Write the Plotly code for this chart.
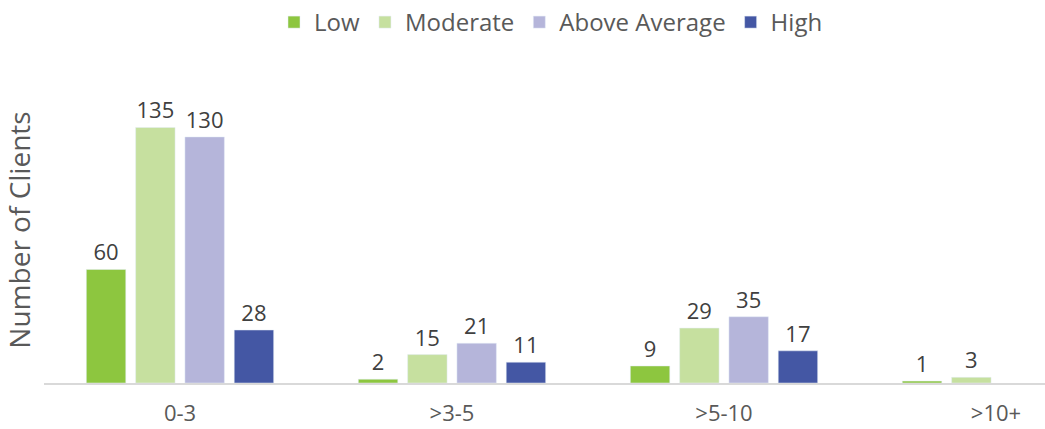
import plotly.graph_objects as go

categories = ["0-3", ">3-5", ">5-10", ">10+"]
series_names = ["Low", "Moderate", "Above Average", "High"]
low = [60, 2, 9, 1]
moderate = [135, 15, 29, 3]
above_average = [130, 21, 35, None]
high = [28, 11, 17, None]
colors = ["#8DC63F", "#C6E09F", "#B5B5DA", "#4457A4"]

values = [low, moderate, above_average, high]

fig = go.Figure()
for name, vals, col in zip(series_names, values, colors):
    fig.add_trace(go.Bar(
        x=categories, y=vals, name=name, marker_color=col,
        text=[("" if v is None else str(v)) for v in vals],
        textposition="outside", cliponaxis=False,
        textfont=dict(size=22, color="#404040", family="Open Sans"),
    ))

W, H = 1045, 429
left, bottom, top = 44, 46, 77
cat_px = 272
plot_w = W - left
fig.update_layout(
    width=W, height=H,
    margin=dict(l=left, r=0, t=top, b=bottom, autoexpand=False),
    paper_bgcolor="white", plot_bgcolor="white",
    barmode="group", bargap=0.275, bargroupgap=0.2,
    font=dict(family="Open Sans", color="#595959", size=23),
    showlegend=True,
    legend=dict(orientation="h", xref="paper", x=(551 - left) / plot_w, xanchor="center",
                yref="container", y=1.0, yanchor="top",
                font=dict(size=24, color="#595959"), itemwidth=30,
                traceorder="normal"),
    xaxis=dict(type="category", range=[-0.5, -0.5 + plot_w / cat_px],
               showline=True, linecolor="#D9D9D9", linewidth=2,
               showgrid=False, zeroline=False, ticks="", ticklabelstandoff=10,
               tickfont=dict(size=22, color="#595959"), automargin=False),
    yaxis=dict(range=[0, (383 - top) / 1.893], showticklabels=False, showgrid=False,
               zeroline=False, showline=False, automargin=False,
               title=dict(text="Number of Clients", standoff=4,
                          font=dict(size=28, color="#595959"))),
)
fig.write_html("out.html")
